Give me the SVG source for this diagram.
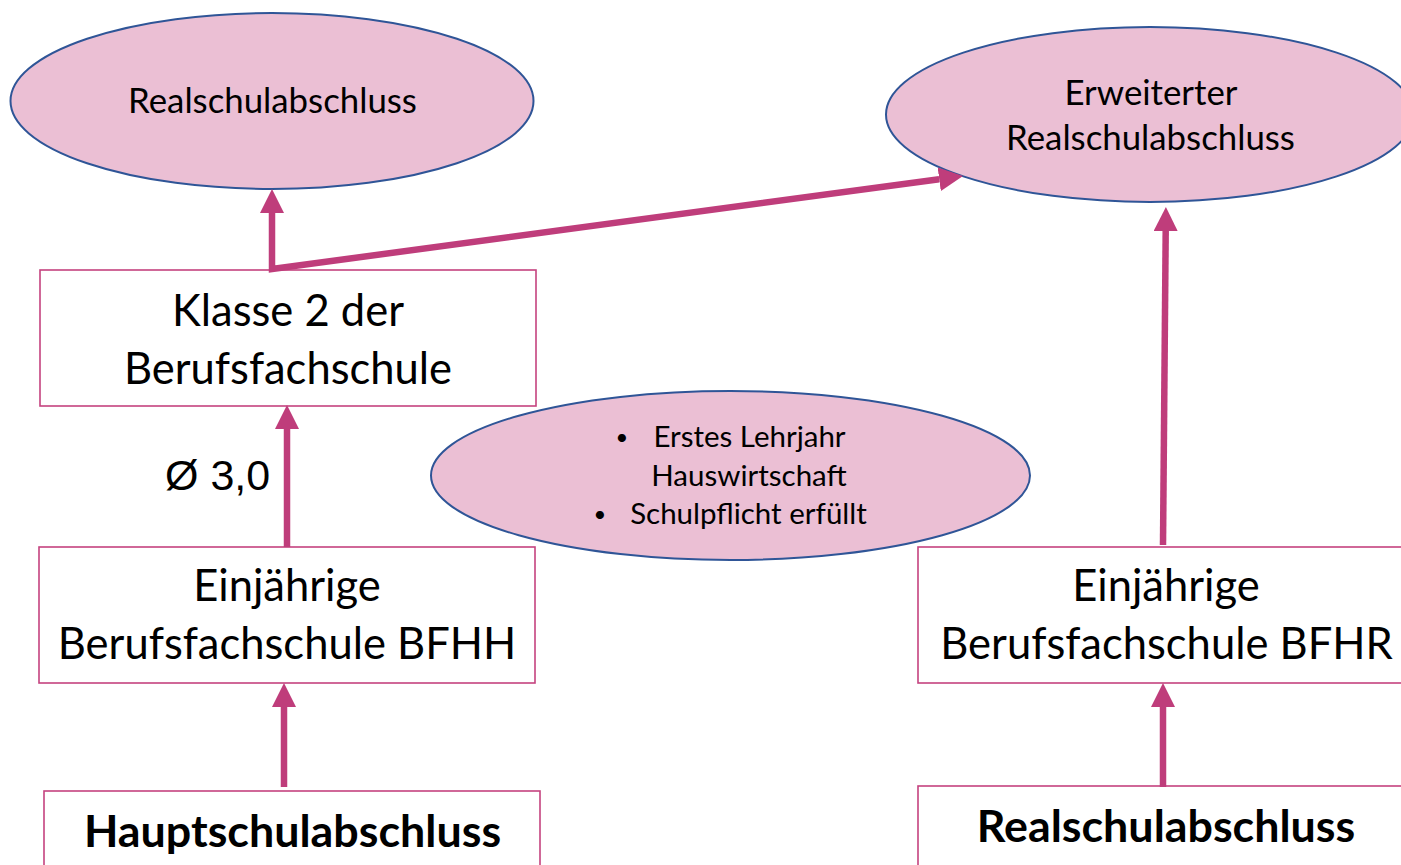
<svg xmlns="http://www.w3.org/2000/svg" width="1401" height="865" viewBox="0 0 1401 865">
<style>
.ell{fill:#EBBFD4;stroke:#2F5597;stroke-width:2}
.box{fill:#FFFFFF;stroke:#C5437F;stroke-width:1.6}
.t{font-family:Lato,"Open Sans",sans-serif;fill:#000;text-anchor:middle}
.e{font-size:34.8px}
.b{font-size:43.5px}
.m{font-size:29.5px}
.bul{font-size:22px}
.bold{font-weight:bold;font-size:44.8px}
.con{fill:none;stroke:#BF3D7B;stroke-width:6.5;stroke-linejoin:miter}
</style>
<defs>
<marker id="ah" viewBox="0 0 24 24" markerWidth="24" markerHeight="24" refX="0" refY="12" orient="auto-start-reverse" markerUnits="userSpaceOnUse">
<path d="M0,0 L24,12 L0,24 z" fill="#BF3D7B"/>
</marker>
</defs>
<rect width="1401" height="865" fill="#FFFFFF"/>
<g id="n-real-top">
<ellipse class="ell" cx="272" cy="101" rx="261.5" ry="88"/>
<text class="t e" x="272.5" y="113">Realschulabschluss</text>
</g>
<g id="n-erw">
<ellipse class="ell" cx="1150" cy="114.5" rx="264" ry="87.5"/>
<text class="t e" x="1151" y="105">Erweiterter</text>
<text class="t e" x="1150.5" y="150">Realschulabschluss</text>
</g>
<g id="n-klasse2">
<rect class="box" x="40" y="270" width="496" height="136"/>
<text class="t b" x="288" y="326">Klasse 2 der</text>
<text class="t b" x="288" y="384">Berufsfachschule</text>
</g>
<g id="n-mid">
<ellipse class="ell" cx="730.5" cy="475.5" rx="299.5" ry="84.5"/>
<text class="t bul" x="622" y="445">•</text>
<text class="t m" x="749.5" y="447">Erstes Lehrjahr</text>
<text class="t m" x="749" y="486">Hauswirtschaft</text>
<text class="t bul" x="600" y="522">•</text>
<text class="t m" x="748.5" y="524">Schulpflicht erfüllt</text>
</g>
<g id="n-bfhh">
<rect class="box" x="39" y="547" width="496" height="136"/>
<text class="t b" x="287" y="601">Einjährige</text>
<text class="t b" x="287" y="659">Berufsfachschule BFHH</text>
</g>
<g id="n-bfhr">
<rect class="box" x="918" y="547" width="490" height="136"/>
<text class="t b" x="1166" y="601">Einjährige</text>
<text class="t b" x="1166.5" y="659">Berufsfachschule BFHR</text>
</g>
<g id="n-haupt">
<rect class="box" x="44" y="791" width="496" height="90"/>
<text class="t bold" x="292.5" y="847">Hauptschulabschluss</text>
</g>
<g id="n-real-bottom">
<rect class="box" x="918" y="786" width="490" height="95"/>
<text class="t bold" x="1166" y="842">Realschulabschluss</text>
</g>
<g id="connectors">
<path class="con" d="M272,213 L272,269 L939.2,179.2" marker-start="url(#ah)" marker-end="url(#ah)"/>
<line class="con" x1="1163" y1="545" x2="1165.7" y2="231" marker-end="url(#ah)"/>
<line class="con" x1="287" y1="547" x2="287" y2="429" marker-end="url(#ah)"/>
<line class="con" x1="284" y1="787" x2="284" y2="707" marker-end="url(#ah)"/>
<line class="con" x1="1163" y1="787" x2="1163" y2="707" marker-end="url(#ah)"/>
<text x="165" y="490" style="font-family:'Liberation Sans',Arial,sans-serif;font-size:43px;fill:#000">Ø 3,0</text>
</g>
</svg>
